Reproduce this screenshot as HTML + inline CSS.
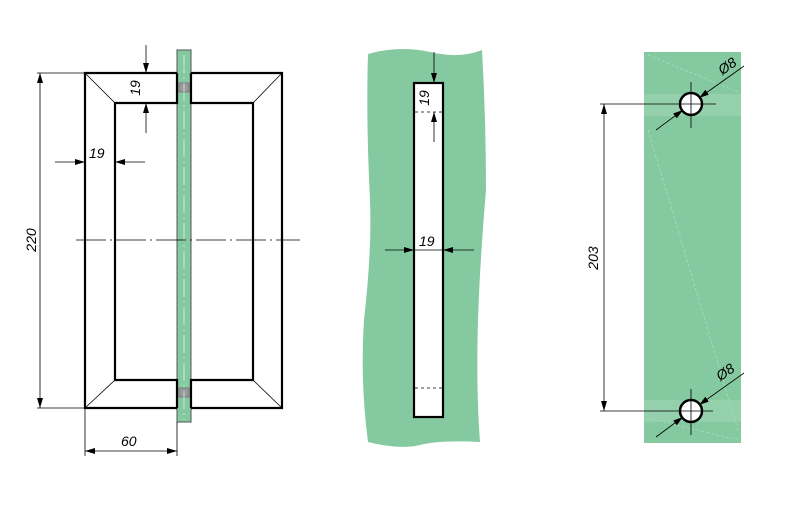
<!DOCTYPE html>
<html><head><style>body{margin:0;background:#fff}svg{display:block}text{font-family:"Liberation Sans",sans-serif;font-style:italic;font-size:14px;fill:#000}</style></head><body>
<svg width="809" height="527" viewBox="0 0 809 527" xmlns="http://www.w3.org/2000/svg">
<defs>
<marker id="a" viewBox="0 0 10 6" refX="10" refY="3" markerWidth="10" markerHeight="6" orient="auto-start-reverse" markerUnits="userSpaceOnUse"><path d="M0,0L10,3L0,6z" fill="#000"/></marker>
</defs>
<!-- LEFT -->
<g stroke="#000" fill="none">
<rect x="177" y="50" width="14" height="372" fill="#84c9a0" stroke="#555" stroke-width="1"/>
<g stroke-width="2.2">
<path d="M177,73H85V408H177M191,73H282V408H191"/>
<path d="M177,73V103H115V380H177V408M191,73V103H253V380H191V408"/>
</g>
<g stroke-width="0.8">
<path d="M85,73L115,103M282,73L253,103M85,408L115,380M282,408L253,380"/>
</g>
<rect x="179" y="83" width="10" height="9" fill="#999" stroke="#777"/>
<rect x="179" y="388" width="10" height="9" fill="#999" stroke="#777"/>
<path d="M184,55V420" stroke="#fff" stroke-width="0.6" stroke-dasharray="18,4,2,4"/>
<path d="M76,240H300" stroke-width="0.8" stroke-dasharray="30,4,2,4"/>
<g stroke-width="0.8">
<path d="M37,73H85M37,408H85"/>
<path d="M40,73V408" marker-start="url(#a)" marker-end="url(#a)"/>
<path d="M85,408V456M177,422V456"/>
<path d="M85,451H177" marker-start="url(#a)" marker-end="url(#a)"/>
<path d="M146,45V73" marker-end="url(#a)"/><path d="M146,133V103" marker-end="url(#a)"/>
<path d="M55,162H85" marker-end="url(#a)"/><path d="M145,162H115" marker-end="url(#a)"/>
</g>
</g>
<text x="89" y="158">19</text>
<text x="140" y="88" transform="rotate(-90 140 88)" text-anchor="middle">19</text>
<text x="121" y="446">60</text>
<text x="36" y="240" transform="rotate(-90 36 240)" text-anchor="middle">220</text>
<!-- MIDDLE -->
<path d="M368,54 Q400,45 430,52 T482,50 Q486,120 486,190 Q480,260 478,320 Q476,390 480,442 Q440,440 420,445 T368,442 Q360,380 364,320 Q372,250 370,200 Q366,120 368,54z" fill="#84c9a0"/>
<g stroke="#000" fill="none">
<rect x="414" y="83" width="29" height="334" fill="#fff" stroke-width="2.2"/>
<path d="M415,112H442M415,388H442" stroke-width="0.8" stroke-dasharray="3,3"/>
<g stroke-width="0.8">
<path d="M434,52V83" marker-end="url(#a)"/><path d="M434,142V112" marker-end="url(#a)"/>
<path d="M385,250H414" marker-end="url(#a)"/><path d="M474,250H443" marker-end="url(#a)"/>
<path d="M414,250H443"/>
</g>
</g>
<text x="419" y="246">19</text>
<text x="429" y="98" transform="rotate(-90 429 98)" text-anchor="middle">19</text>
<!-- RIGHT -->
<rect x="644" y="52" width="97" height="391" fill="#84c9a0"/>
<path d="M648,55L738,92M648,130L738,430M648,418L738,440" stroke="#b8e3c8" stroke-width="0.6" stroke-dasharray="3,2" fill="none"/>
<rect x="644" y="94" width="97" height="22" fill="#a0d6b5" opacity="0.6"/>
<rect x="644" y="400" width="97" height="22" fill="#a0d6b5" opacity="0.6"/>
<g stroke="#000" fill="none">
<circle cx="691" cy="104" r="11" fill="#fff" stroke-width="2.5"/>
<circle cx="691" cy="411" r="11" fill="#fff" stroke-width="2.5"/>
<g stroke-width="0.8">
<path d="M600,104H716M691,82V128M600,411H713M691,389V435"/>
<path d="M744,66L699,98" marker-end="url(#a)"/><path d="M656,130L683,110" marker-end="url(#a)"/>
<path d="M744,373L699,405" marker-end="url(#a)"/><path d="M656,437L683,417" marker-end="url(#a)"/>
<path d="M604,104V411" marker-start="url(#a)" marker-end="url(#a)"/>
</g>
</g>
<text x="730" y="70" transform="rotate(-35 730 70)" text-anchor="middle">Ø8</text>
<text x="728" y="376" transform="rotate(-35 728 376)" text-anchor="middle">Ø8</text>
<text x="598" y="258" transform="rotate(-90 598 258)" text-anchor="middle">203</text>
</svg>
</body></html>
